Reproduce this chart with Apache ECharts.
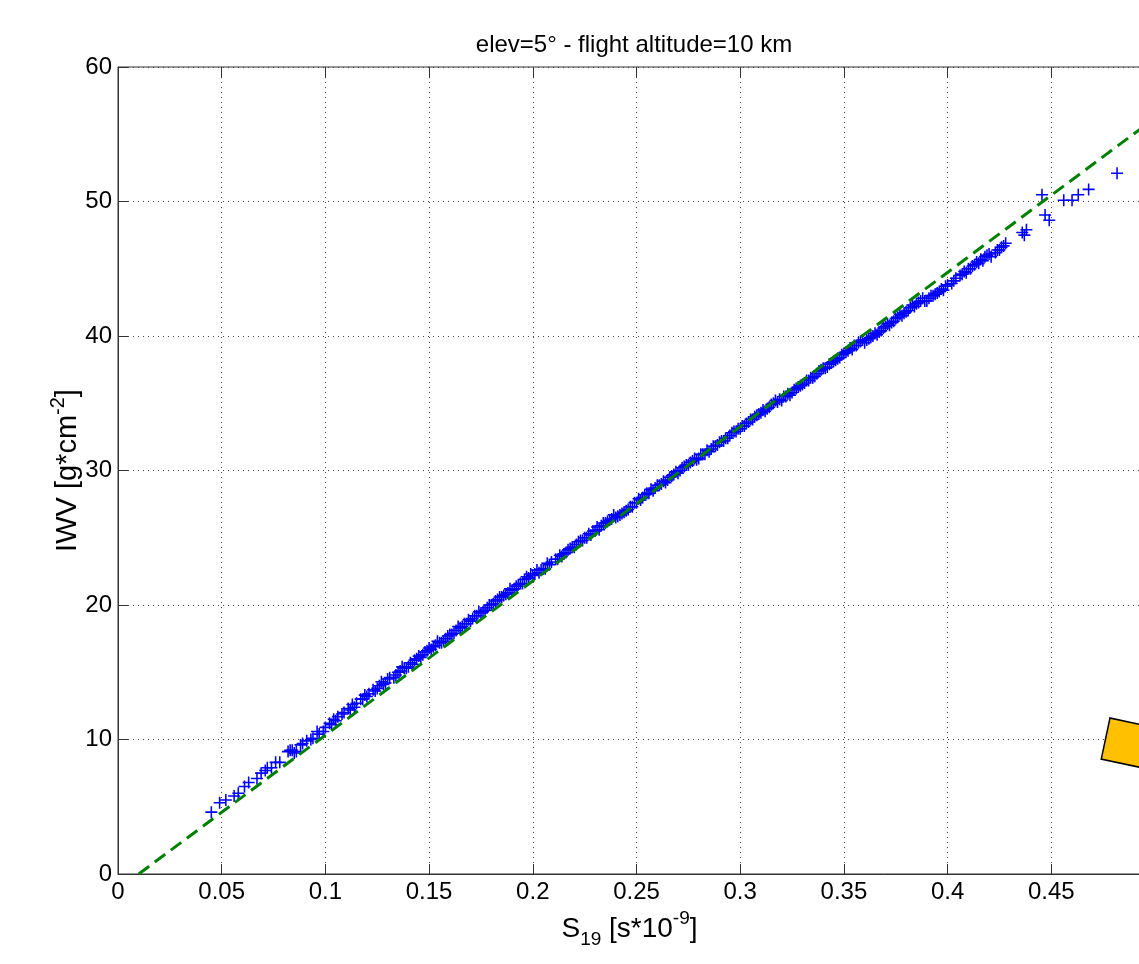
<!DOCTYPE html>
<html>
	<head>
		<meta charset="utf-8" />
		<title>IWV vs S19</title>
		<script src="https://cdn.jsdelivr.net/npm/echarts@6/dist/echarts.min.js"></script>
		<style>
			*{
				padding: 0;
				margin: 0;
			}
			#main{
				width: 1139px;
				height: 964px;
				background: #fff;
			}
		</style>
	</head>
	<body>
		<div id="main"></div>
		<script type="text/javascript">
		// tick labels
		var xTicks = [0, 0.05, 0.1, 0.15, 0.2, 0.25, 0.3, 0.35, 0.4, 0.45, 0.5];
		var yTicks = [0, 10, 20, 30, 40, 50, 60];

		var pointsA = [
			[0.045,4.6],[0.052,5.5],[0.058,6.0],[0.063,6.8],[0.067,7.1],[0.071,7.7],[0.074,7.9],[0.078,8.3],
			[0.082,9.1],[0.084,9.2],[0.086,9.1],[0.091,9.9],[0.094,10.1],[0.097,10.4],[0.100,10.9],[0.103,11.1],
			[0.106,11.7],[0.109,12.0],[0.112,12.2],[0.115,12.7],[0.118,13.0],[0.121,13.4],[0.124,13.6],[0.126,14.0],
			[0.129,14.2],[0.131,14.6],[0.134,14.8],[0.136,15.1],[0.139,15.3],[0.141,15.7],[0.144,16.0],[0.146,16.1],
			[0.148,16.5],[0.151,16.7],[0.153,17.0],[0.156,17.2],[0.158,17.5],[0.161,17.8],[0.163,18.1],[0.166,18.4],
			[0.168,18.6],[0.171,19.0],[0.173,19.2],[0.176,19.5],[0.178,19.8],[0.181,20.1],[0.183,20.4],[0.186,20.7],
			[0.188,20.9],[0.191,21.2],[0.193,21.5],[0.196,21.9],[0.198,22.0],[0.201,22.3],[0.203,22.4],[0.206,22.7],
			[0.209,23.2],[0.212,23.4],[0.215,23.8],[0.218,24.2],[0.221,24.5],[0.224,24.8],[0.227,25.3],[0.230,25.5],
			[0.233,25.9],[0.236,26.2],[0.238,26.4],[0.241,26.6],[0.244,26.9],[0.247,27.3],[0.250,27.6],[0.253,28.0],
			[0.256,28.3],[0.259,28.7],[0.262,29.0],[0.265,29.3],[0.268,29.7],[0.271,30.0],[0.274,30.4],[0.277,30.7],
			[0.280,30.9],[0.283,31.2],[0.286,31.6],[0.289,31.9],[0.292,32.2],[0.295,32.6],[0.298,32.9],[0.301,33.3],
			[0.304,33.6],[0.307,34.0],[0.310,34.3],[0.313,34.6],[0.316,35.0],[0.319,35.3],[0.322,35.5],[0.325,35.8],
			[0.328,36.2],[0.331,36.5],[0.334,36.9],[0.337,37.2],[0.340,37.6],[0.343,37.9],[0.346,38.2],[0.349,38.6],
			[0.352,38.9],[0.355,39.3],[0.358,39.6],[0.361,39.7],[0.364,40.0],[0.367,40.3],[0.370,40.7],[0.373,41.0],
			[0.376,41.4],[0.379,41.7],[0.382,42.1],[0.385,42.4],[0.388,42.8],[0.391,42.8],[0.394,43.1],[0.397,43.5],
			[0.400,43.8],[0.404,44.3],[0.407,44.6],[0.410,45.0],[0.413,45.3],[0.416,45.7],[0.419,46.0],[0.423,46.2],
			[0.426,46.6],[0.436,47.7],[0.438,47.9],[0.4455,50.5],[0.447,49.0],[0.449,48.6],[0.456,50.1],[0.460,50.1],
			[0.463,50.5],[0.468,50.9],[0.4817,52.1]
		];
		var pointsB = [
			[0.049,5.3],[0.056,5.8],[0.061,6.5],[0.069,7.5],[0.076,8.3],[0.083,9.2],[0.085,9.0],[0.089,9.7],
			[0.093,10.0],[0.096,10.6],[0.099,10.6],[0.102,11.2],[0.105,11.4],[0.108,11.9],[0.111,12.3],[0.114,12.4],
			[0.117,13.0],[0.120,13.2],[0.123,13.7],[0.125,13.8],[0.128,14.1],[0.130,14.5],[0.133,14.6],[0.135,15.0],
			[0.138,15.3],[0.140,15.4],[0.143,15.9],[0.145,16.2],[0.147,16.3],[0.150,16.8],[0.152,16.9],[0.155,17.2],
			[0.157,17.3],[0.160,17.8],[0.162,17.9],[0.165,18.3],[0.167,18.6],[0.170,18.8],[0.172,19.2],[0.175,19.4],
			[0.177,19.6],[0.180,20.0],[0.182,20.3],[0.185,20.6],[0.187,20.8],[0.190,21.1],[0.192,21.4],[0.195,21.6],
			[0.197,22.1],[0.200,22.2],[0.202,22.6],[0.205,22.7],[0.208,23.0],[0.211,23.4],[0.214,23.6],[0.217,24.1],
			[0.220,24.3],[0.223,24.8],[0.226,25.0],[0.229,25.5],[0.232,25.6],[0.235,26.1],[0.237,26.3],[0.240,26.5],
			[0.243,26.8],[0.246,27.1],[0.249,27.6],[0.252,27.8],[0.255,28.3],[0.258,28.5],[0.261,28.9],[0.264,29.1],
			[0.267,29.6],[0.270,29.8],[0.273,30.3],[0.276,30.6],[0.279,30.8],[0.282,31.2],[0.285,31.4],[0.288,31.8],
			[0.291,32.2],[0.294,32.4],[0.297,32.9],[0.300,33.1],[0.303,33.5],[0.306,33.8],[0.309,34.2],[0.312,34.4],
			[0.315,34.9],[0.318,35.1],[0.321,35.5],[0.324,35.6],[0.327,36.1],[0.330,36.4],[0.333,36.7],[0.336,37.0],
			[0.339,37.5],[0.342,37.7],[0.345,38.1],[0.348,38.4],[0.351,38.8],[0.354,39.0],[0.357,39.5],[0.360,39.5],
			[0.363,39.9],[0.366,40.1],[0.369,40.6],[0.372,40.8],[0.375,41.3],[0.378,41.5],[0.381,41.9],[0.384,42.2],
			[0.387,42.6],[0.390,42.6],[0.393,43.0],[0.396,43.3],[0.399,43.7],[0.402,43.9],[0.406,44.5],[0.409,44.7],
			[0.412,45.2],[0.415,45.4],[0.418,45.9],[0.421,45.9],[0.425,46.4],[0.428,46.9]
		];
		var pointsC = [
			[0.072,7.9],[0.088,9.6],[0.104,11.5],[0.113,12.6],[0.119,13.3],[0.127,14.3],[0.137,15.4],[0.142,15.6],
			[0.149,16.6],[0.154,17.3],[0.159,17.7],[0.164,18.4],[0.169,18.9],[0.174,19.5],[0.179,20.0],[0.184,20.6],
			[0.189,21.2],[0.194,21.6],[0.199,22.3],[0.204,22.6],[0.207,23.1],[0.213,23.7],[0.216,23.9],[0.219,24.3],
			[0.222,24.7],[0.225,25.0],[0.228,25.2],[0.231,25.8],[0.234,26.1],[0.239,26.7],[0.242,26.7],[0.245,27.0],
			[0.248,27.3],[0.251,27.9],[0.254,28.2],[0.257,28.6],[0.260,28.9],[0.263,29.2],[0.266,29.5],[0.269,29.9],
			[0.272,30.2],[0.275,30.4],[0.278,30.9],[0.281,31.2],[0.284,31.5],[0.287,31.8],[0.290,32.1],[0.293,32.4],
			[0.296,32.8],[0.299,33.1],[0.302,33.3],[0.305,33.8],[0.308,34.1],[0.311,34.5],[0.314,34.7],[0.317,35.2],
			[0.320,35.2],[0.323,35.7],[0.326,36.0],[0.329,36.3],[0.332,36.7],[0.335,36.9],[0.338,37.4],[0.341,37.6],
			[0.344,38.0],[0.347,38.3],[0.350,38.7],[0.353,39.1],[0.356,39.3],[0.359,39.7],[0.362,39.8],[0.365,40.2],
			[0.368,40.4],[0.371,40.9],[0.374,41.1],[0.377,41.6],[0.380,41.8],[0.383,42.3],[0.386,42.5],[0.389,42.6],
			[0.392,43.0],[0.395,43.2],[0.398,43.4],[0.403,44.1],[0.408,44.8],[0.411,45.0],[0.414,45.5],[0.417,45.6],
			[0.420,46.1],[0.424,46.4],[0.427,46.7],[0.437,47.5]
		];
		// fitted regression line (green dashed), end points
		var fitLine = [[0.01, 0], [0.5, 56.2]];

		var font = 'Liberation Sans, Arial, Helvetica, sans-serif';
		var plusSymbol = 'path://M4.35,0H5.65V10H4.35ZM0,4.35H10V5.65H0Z';

		var myChart = echarts.init(document.getElementById('main'));

		function plusSeries(name, data) {
			return {
				name: name,
				type: 'scatter',
				symbol: plusSymbol,
				symbolSize: 12,
				itemStyle: { color: '#0000ff', opacity: 1 },
				data: data,
				z: 2
			};
		}

		var option = {
			backgroundColor: '#fff',
			animation: false,
			textStyle: { fontFamily: font },
			title: {
				text: 'elev=5\u00b0 - flight altitude=10 km',
				left: 629,
				top: 28,
				textAlign: 'center',
				textStyle: { fontSize: 24, fontWeight: 'normal', color: '#000', fontFamily: font }
			},
			grid: {
				left: 118,
				top: 67,
				width: 1037,
				height: 807,
				outerBoundsMode: 'none',
				containLabel: false,
				show: true,
				borderColor: '#333',
				borderWidth: 1,
				backgroundColor: '#fff'
			},
			xAxis: [{
				type: 'value',
				min: xTicks[0],
				max: xTicks[xTicks.length - 1],
				interval: 0.05,
				name: '{n|S}{sub|19}{n| [s*10}{sup|-9}{n|]}',
				nameLocation: 'middle',
				nameGap: 35,
				nameMoveOverlap: false,
				nameTextStyle: {
					padding: [0, 14, 0, 0],
					rich: {
						n: { fontSize: 28, color: '#000', lineHeight: 40, verticalAlign: 'middle', fontFamily: font },
						sub: { fontSize: 19, color: '#000', verticalAlign: 'bottom', fontFamily: font },
						sup: { fontSize: 19, color: '#000', verticalAlign: 'top', fontFamily: font }
					}
				},
				axisLine: { show: true, lineStyle: { color: '#333', width: 1 } },
				axisTick: { show: true, inside: true, length: 10, lineStyle: { color: '#333' } },
				axisLabel: {
					fontSize: 24, color: '#000', margin: 6, fontFamily: font,
					showMaxLabel: true, hideOverlap: false,
					formatter: function (v) { return String(+v.toFixed(2)); }
				},
				splitLine: { show: true, lineStyle: { color: '#444', width: 1, type: [1, 4] } }
			}, {
				type: 'value',
				position: 'top',
				min: xTicks[0],
				max: xTicks[xTicks.length - 1],
				interval: 0.05,
				axisLine: { show: false },
				axisTick: { show: true, inside: true, length: 10, lineStyle: { color: '#333' } },
				axisLabel: { show: false },
				splitLine: { show: false }
			}],
			yAxis: [{
				type: 'value',
				min: yTicks[0],
				max: yTicks[yTicks.length - 1],
				interval: 10,
				name: '{n|IWV [g*cm}{sup|-2}{n|]}',
				nameLocation: 'middle',
				nameGap: 30,
				nameRotate: 90,
				nameMoveOverlap: false,
				nameTextStyle: {
					rich: {
						n: { fontSize: 29, color: '#000', lineHeight: 40, verticalAlign: 'middle', fontFamily: font },
						sup: { fontSize: 20, color: '#000', verticalAlign: 'top', fontFamily: font }
					}
				},
				axisLine: { show: true, lineStyle: { color: '#333', width: 1 } },
				axisTick: { show: true, inside: true, length: 10, lineStyle: { color: '#333' } },
				axisLabel: { fontSize: 24, color: '#000', margin: 6, fontFamily: font },
				splitLine: { show: true, lineStyle: { color: '#444', width: 1, type: [1, 4] } }
			}],
			graphic: [{
				type: 'rect',
				x: 1110,
				y: 718,
				rotation: -0.21,
				shape: { x: 0, y: 0, width: 100, height: 42 },
				style: { fill: '#ffc000', stroke: '#000', lineWidth: 1.5 },
				z: 100
			}],
			series: [
				plusSeries('pointsA', pointsA),
				plusSeries('pointsB', pointsB),
				plusSeries('pointsC', pointsC),
				{
					name: 'fit',
					type: 'line',
					symbol: 'none',
					lineStyle: { color: '#008000', width: 3, type: [13, 7] },
					data: fitLine,
					z: 3
				}
			]
		};

		myChart.setOption(option);
		</script>
	</body>
</html>
